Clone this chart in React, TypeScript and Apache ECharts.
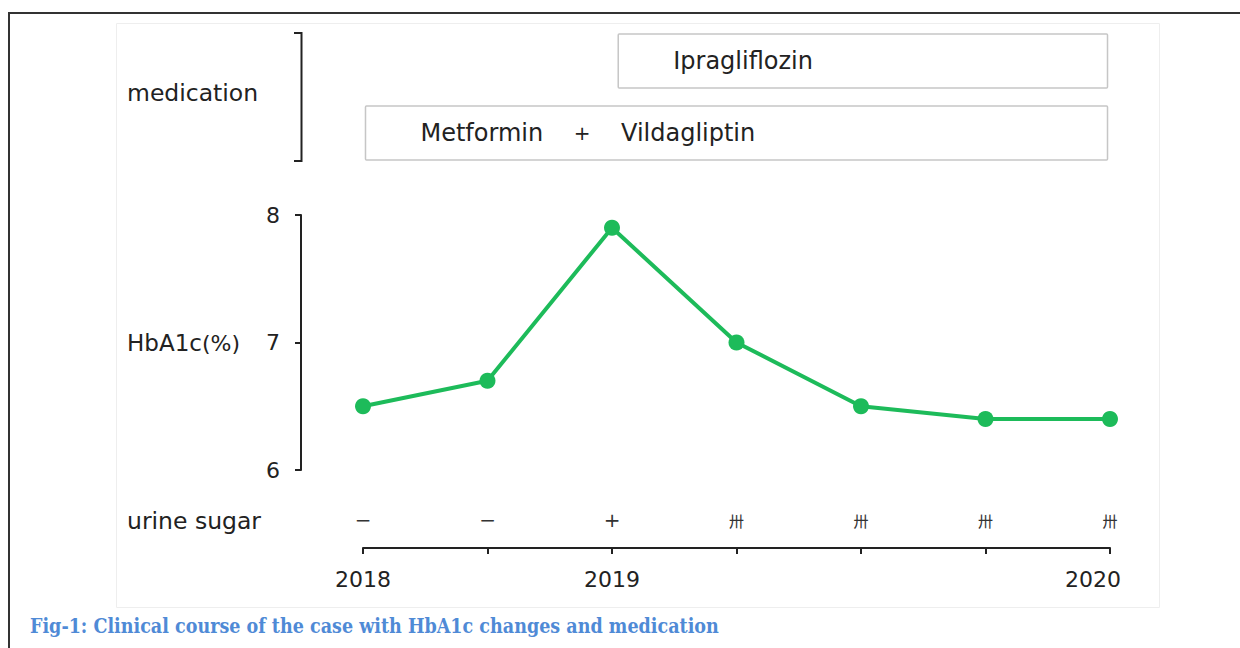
import React, { useEffect, useRef } from "react";
import * as echarts from "echarts";

const visitIndex = [0, 1, 2, 3, 4, 5, 6];
const yearLabels = ["2018", "", "2019", "", "", "", "2020"];
const hba1c = [6.5, 6.7, 7.9, 7.0, 6.5, 6.4, 6.4];
const urineSugar = ["−", "−", "+", "卅", "卅", "卅", "卅"];
const yTicks = [6, 7, 8];
const medNames = ["Ipragliflozin", "Metformin\u00a0\u00a0\u00a0\u00a0{p|+}\u00a0\u00a0\u00a0\u00a0Vildagliptin"];
const medStart = [2.05, 0.02];
const medEnd = [5.98, 5.98];

const FONT = "'DejaVu Sans', 'Noto Sans', sans-serif";
const TXT = "#222";

export default function App() {
  const ref = useRef<HTMLDivElement>(null);
  useEffect(() => {
    const chart = echarts.init(ref.current!, undefined, { renderer: "svg" });
    const option: any = {
      animation: false,
      backgroundColor: "#fff",
      grid: { left: 363, right: 130, top: 215, bottom: 178 },
      xAxis: [
        {
          type: "value",
          min: 0,
          max: 6,
          interval: 1,
          offset: 78,
          position: "bottom",
          splitLine: { show: false },
          axisLine: { show: true, onZero: false, lineStyle: { color: TXT, width: 2 } },
          axisTick: { show: true, length: 6, lineStyle: { color: TXT, width: 2 } },
          axisLabel: {
            margin: 20,
            fontSize: 22,
            color: TXT,
            fontFamily: FONT,
            formatter: (v: number) => {
              const s = yearLabels[v] ?? "";
              return v === visitIndex[visitIndex.length - 1] && s ? "{r|" + s + "}" : s;
            },
            rich: { r: { fontSize: 22, fontFamily: FONT, color: TXT, padding: [0, 34, 0, 0] } },
          },
        },
        {
          type: "value",
          min: 0,
          max: 6,
          interval: 1,
          offset: 0,
          position: "bottom",
          splitLine: { show: false },
          axisLine: { show: false, onZero: false },
          axisTick: { show: false },
          axisLabel: {
            margin: 40,
            fontSize: 20,
            color: "#333",
            fontFamily: FONT,
            formatter: (v: number) => {
              const s = urineSugar[v] ?? "";
              return s === "卅" ? "{k|卅}" : s;
            },
            rich: {
              k: {
                fontSize: 15,
                color: "#333",
                fontFamily: "'Noto Sans CJK JP', sans-serif",
                padding: [3, 0, 0, 0],
              },
            },
          },
        },
      ],
      yAxis: {
        type: "value",
        min: yTicks[0],
        max: yTicks[yTicks.length - 1],
        interval: 1,
        offset: 62,
        splitLine: { show: false },
        axisLine: { show: true, onZero: false, lineStyle: { color: TXT, width: 2 } },
        axisTick: { show: true, length: 6, lineStyle: { color: TXT, width: 2 } },
        axisLabel: { margin: 21, fontSize: 22, color: TXT, fontFamily: FONT },
      },
      series: [
        {
          type: "line",
          data: visitIndex.map((x, i) => [x, hba1c[i]]),
          symbol: "circle",
          symbolSize: 16,
          lineStyle: { color: "#1dbb5a", width: 4 },
          itemStyle: { color: "#1dbb5a" },
        },
      ],
    };
    chart.setOption(option);

    const boxGraphics: any[] = [];
    const rowTop = [34, 106];
    const rowH = 54;
    medNames.forEach((name, i) => {
      const x0 = chart.convertToPixel({ xAxisIndex: 0 }, medStart[i]) as number;
      const x1 = chart.convertToPixel({ xAxisIndex: 0 }, medEnd[i]) as number;
      boxGraphics.push({
        type: "rect",
        shape: { x: x0, y: rowTop[i], width: x1 - x0, height: rowH, r: 1 },
        style: { fill: "#fff", stroke: "#c6c6c6", lineWidth: 1.5 },
      });
      boxGraphics.push({
        type: "text",
        x: x0 + 55,
        y: rowTop[i] + rowH / 2,
        style: {
          text: name,
          fontSize: 24,
          fontFamily: FONT,
          fill: TXT,
          verticalAlign: "middle",
          rich: { p: { fontSize: 20, fontFamily: FONT, fill: TXT } },
        },
      });
    });

    chart.setOption({
      graphic: [
        {
          type: "rect",
          shape: { x: 9, y: 13, width: 1300, height: 700 },
          style: { fill: "none", stroke: "#333", lineWidth: 2 },
          z: 0,
        },
        {
          type: "rect",
          shape: { x: 116.5, y: 23.5, width: 1043, height: 584 },
          style: { fill: "none", stroke: "#eeeeee", lineWidth: 1 },
          z: 0,
        },
        {
          type: "polyline",
          shape: { points: [[294, 33], [301.5, 33], [301.5, 161], [294, 161]] },
          style: { stroke: TXT, lineWidth: 2, fill: "none" },
        },
        {
          type: "text",
          x: 127,
          y: 93,
          style: { text: "medication", fontSize: 23.5, fontFamily: FONT, fill: TXT, verticalAlign: "middle" },
        },
        {
          type: "text",
          x: 127,
          y: 343,
          style: {
            text: "{a|HbA1c}{b|(%)}",
            rich: {
              a: { fontSize: 23, fontFamily: FONT, fill: TXT },
              b: { fontSize: 22, fontFamily: FONT, fill: TXT },
            },
            verticalAlign: "middle",
          },
        },
        {
          type: "text",
          x: 127,
          y: 521,
          style: { text: "urine sugar", fontSize: 23.5, fontFamily: FONT, fill: TXT, verticalAlign: "middle" },
        },
        {
          type: "text",
          x: 30,
          y: 626,
          style: {
            text: "Fig-1: Clinical course of the case with HbA1c changes and medication",
            fontSize: 19.5,
            fontWeight: "bold",
            fontFamily: "'DejaVu Serif Condensed', 'DejaVu Serif', serif",
            fill: "#4f8ad6",
            verticalAlign: "middle",
          },
        },
        ...boxGraphics,
      ],
    });

    return () => chart.dispose();
  }, []);
  return (
    <div
      ref={ref}
      style={{ position: "absolute", left: 0, top: 0, width: 1240, height: 648 }}
    />
  );
}
